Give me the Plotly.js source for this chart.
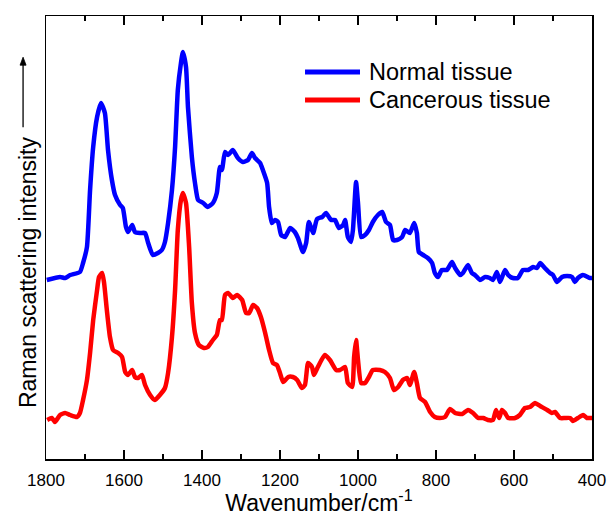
<!DOCTYPE html>
<html>
<head>
<meta charset="utf-8">
<script src="https://cdn.plot.ly/plotly-3.0.1.min.js"></script>
<style>
  html, body { margin: 0; padding: 0; background: #fff; }
  #chart { width: 609px; height: 516px; }
</style>
</head>
<body>
<div id="chart"></div>
<script>
// Raman spectra, wavenumber in cm^-1, intensity in arbitrary units (offset spectra)
const normalWavenumber = [1798,1764,1751,1738,1713,1705,1695,1687,1679,1669,1659,1649,1641,1631,1623,1610,1603,1595,1590,1579,1572,1559,1546,1538,1526,1513,1503,1495,1487,1477,1469,1462,1454,1449,1441,1436,1426,1418,1410,1397,1385,1372,1362,1354,1349,1341,1333,1321,1308,1295,1282,1272,1264,1251,1244,1233,1228,1221,1213,1205,1197,1187,1174,1162,1154,1141,1133,1126,1115,1105,1092,1082,1069,1059,1049,1038,1033,1026,1018,1013,1005,1000,992,982,972,962,949,938,928,918,910,900,887,879,867,856,849,844,833,821,810,803,795,785,772,759,751,738,731,718,708,700,687,674,662,654,644,636,623,615,603,590,577,564,551,541,533,521,508,500,490,477,464,451,444,436,423,405,400];
const normalIntensity = [179,182,181,184,187,196,212,269,312,342,356,346,309,279,264,254,251,232,227,234,227,226,226,216,204,206,209,217,236,269,312,369,396,407,392,352,302,276,259,256,252,256,266,292,289,307,304,309,301,297,299,306,301,296,289,276,252,236,239,237,224,222,231,227,221,207,216,237,226,240,242,246,239,239,231,234,239,222,217,229,277,256,222,224,229,237,244,247,237,234,219,219,222,229,226,236,226,207,204,201,196,186,182,189,189,197,191,184,186,194,186,184,179,182,181,179,187,177,189,184,181,181,189,189,192,191,196,191,186,184,177,182,183,182,177,181,184,181,181];

const cancerWavenumber = [1797,1785,1777,1764,1751,1738,1721,1713,1705,1695,1687,1679,1669,1664,1656,1651,1644,1636,1628,1615,1605,1597,1590,1579,1572,1564,1554,1546,1533,1521,1508,1495,1487,1477,1469,1462,1454,1449,1441,1433,1426,1418,1408,1395,1385,1372,1362,1354,1349,1341,1333,1321,1310,1297,1287,1279,1269,1259,1249,1238,1228,1218,1208,1200,1192,1179,1167,1156,1144,1136,1128,1118,1113,1103,1085,1072,1056,1046,1033,1026,1015,1010,1005,1000,992,982,972,962,944,931,918,908,897,885,874,867,856,849,841,828,815,803,790,777,764,751,733,718,705,692,679,667,654,646,638,631,623,615,597,585,572,559,546,533,515,503,495,482,469,456,449,436,423,413,405,400];
const cancerIntensity = [39,41,37,44,46,44,42,46,59,79,106,139,169,182,186,176,149,122,109,106,102,87,84,89,82,81,84,74,64,59,64,71,86,122,169,229,259,266,256,212,156,126,114,111,112,119,124,139,139,164,166,161,164,159,146,146,154,151,142,126,109,96,94,86,77,82,82,79,71,74,96,92,84,92,104,99,89,89,92,76,72,102,119,99,76,76,82,89,89,87,81,69,72,79,81,74,87,76,61,57,47,42,41,42,50,46,45,49,46,41,41,39,39,49,41,49,46,41,41,44,51,52,56,53,49,46,47,41,41,41,38,41,44,41,41,41];

const seriesNames = ['Normal tissue', 'Cancerous tissue'];
const seriesColors = ['#0000FF', '#FF0000'];
const xTickValues = [1800, 1600, 1400, 1200, 1000, 800, 600, 400];

const fontFamily = 'Liberation Sans, Arial, sans-serif';

const traces = [
  { x: normalWavenumber, y: normalIntensity, name: seriesNames[0] },
  { x: cancerWavenumber, y: cancerIntensity, name: seriesNames[1] }
].map((t, i) => Object.assign(t, {
  type: 'scatter',
  mode: 'lines',
  line: { color: seriesColors[i], width: 4.5, shape: 'spline', smoothing: 0.5 },
  showlegend: false,
  hoverinfo: 'x+y+name'
}));

// Legend drawn as line samples plus text, placed in paper space
const legendRows = [0.8736, 0.8104];
const shapes = legendRows.map((yy, i) => ({
  type: 'line', xref: 'paper', yref: 'paper',
  x0: 0.4744, x1: 0.5751, y0: yy, y1: yy,
  line: { color: seriesColors[i], width: 5 }
}));

// Upward arrow beside the y caption: shaft and head
shapes.push({
  type: 'line', xref: 'paper', yref: 'paper',
  x0: -0.042, x1: -0.042, y0: 0.749, y1: 0.893,
  line: { color: '#000', width: 1.3 }
});
shapes.push({
  type: 'path', xref: 'paper', yref: 'paper',
  path: 'M -0.0475 0.889 L -0.042 0.907 L -0.0365 0.889 Z',
  fillcolor: '#000', line: { color: '#000', width: 0.8 }
});

const annotations = legendRows.map((yy, i) => ({
  xref: 'paper', yref: 'paper', x: 0.5879, y: yy,
  xanchor: 'left', yanchor: 'middle', showarrow: false,
  text: seriesNames[i],
  font: { family: fontFamily, size: 23.5, color: '#000' }
}));

annotations.push({
  xref: 'paper', yref: 'paper', x: -0.033, y: 0.422,
  xanchor: 'center', yanchor: 'middle', showarrow: false,
  textangle: -90,
  text: 'Raman scattering intensity',
  font: { family: fontFamily, size: 23, color: '#000' }
});

const layout = {
  width: 609, height: 516,
  margin: { l: 46, r: 17, t: 16, b: 57, pad: 0 },
  paper_bgcolor: '#fff', plot_bgcolor: '#fff',
  font: { family: fontFamily, color: '#000' },
  xaxis: {
    range: [1800, 400],
    tickvals: xTickValues,
    ticktext: xTickValues.map(String),
    ticks: 'inside', ticklen: 9, tickwidth: 1.5, tickcolor: '#000',
    ticklabelstandoff: 5,
    minor: { dtick: 100, ticks: 'inside', ticklen: 5, tickwidth: 1.5, tickcolor: '#000' },
    showline: true, linecolor: '#000', linewidth: 1.5, mirror: 'ticks',
    showgrid: false, zeroline: false,
    tickfont: { family: fontFamily, size: 17, color: '#000' },
    title: { text: 'Wavenumber/cm<sup>-1</sup>', font: { family: fontFamily, size: 23, color: '#000' }, standoff: 4 }
  },
  yaxis: {
    range: [0, 443],
    showticklabels: false, ticks: '',
    showline: true, linecolor: '#000', linewidth: 1.5, mirror: true,
    showgrid: false, zeroline: false
  },
  shapes: shapes,
  annotations: annotations
};

Plotly.newPlot('chart', traces, layout, { displayModeBar: false, staticPlot: true });
</script>
</body>
</html>
